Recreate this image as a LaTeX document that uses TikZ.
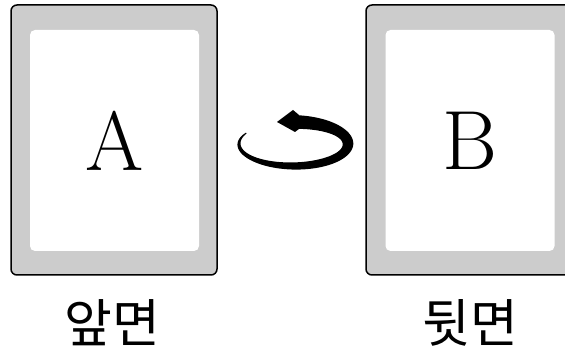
\documentclass[tikz,border=0pt]{standalone}
\usepackage{fontspec}
\newfontfamily\krfont{Noto Sans CJK KR}
\begin{document}
\begin{tikzpicture}[x=1pt,y=1pt,
  outerbox/.style={draw=black, line width=1.5pt, fill=boxgray, rounded corners=6pt,
    minimum width=206pt, minimum height=270pt, inner sep=0pt},
  innerbox/.style={fill=white, rounded corners=5pt,
    minimum width=169pt, minimum height=221pt, inner sep=0pt,
    font=\fontsize{84}{90}\selectfont},
  sidelabel/.style={font=\krfont\fontsize{52}{60}\selectfont, inner sep=0pt}]
\definecolor{boxgray}{HTML}{CCCCCC}
\useasboundingbox (0,0) rectangle (565,352);
\fill[white] (0,0) rectangle (565,352);
% front page
\node[outerbox] (frontouter) at (114,212) {};
\node[innerbox] (front) at (114.5,211.5) {A};
\node[sidelabel] (frontlabel) at (112,29) {앞면};
% back page
\node[outerbox] (backouter) at (469,212) {};
\node[innerbox] (back) at (470,211.5) {B};
\node[sidelabel] (backlabel) at (470,29) {뒷면};
% turning arrow
\def\cx{293.5}\def\cy{208}\def\rx{54.5}\def\ry{22}
\fill[black]
  plot[domain=150:445, samples=90, smooth]
    ({\cx+(\rx+(0.5+6.3*pow((\x-150)/295,0.8)))*cos(\x)}, {\cy+(\ry+(0.5+6.3*pow((\x-150)/295,0.8)))*sin(\x)})
  -- plot[domain=445:150, samples=90, smooth]
    ({\cx+(\rx-(0.5+6.3*pow((\x-150)/295,0.8)))*cos(\x)}, {\cy+(\ry-(0.5+6.3*pow((\x-150)/295,0.8)))*sin(\x)})
  -- cycle;
\coordinate (tip) at (277,230);
\fill[black] (tip) -- (293,242) -- (299,237) -- (299,223) -- (295,220) -- cycle;
\end{tikzpicture}
\end{document}
